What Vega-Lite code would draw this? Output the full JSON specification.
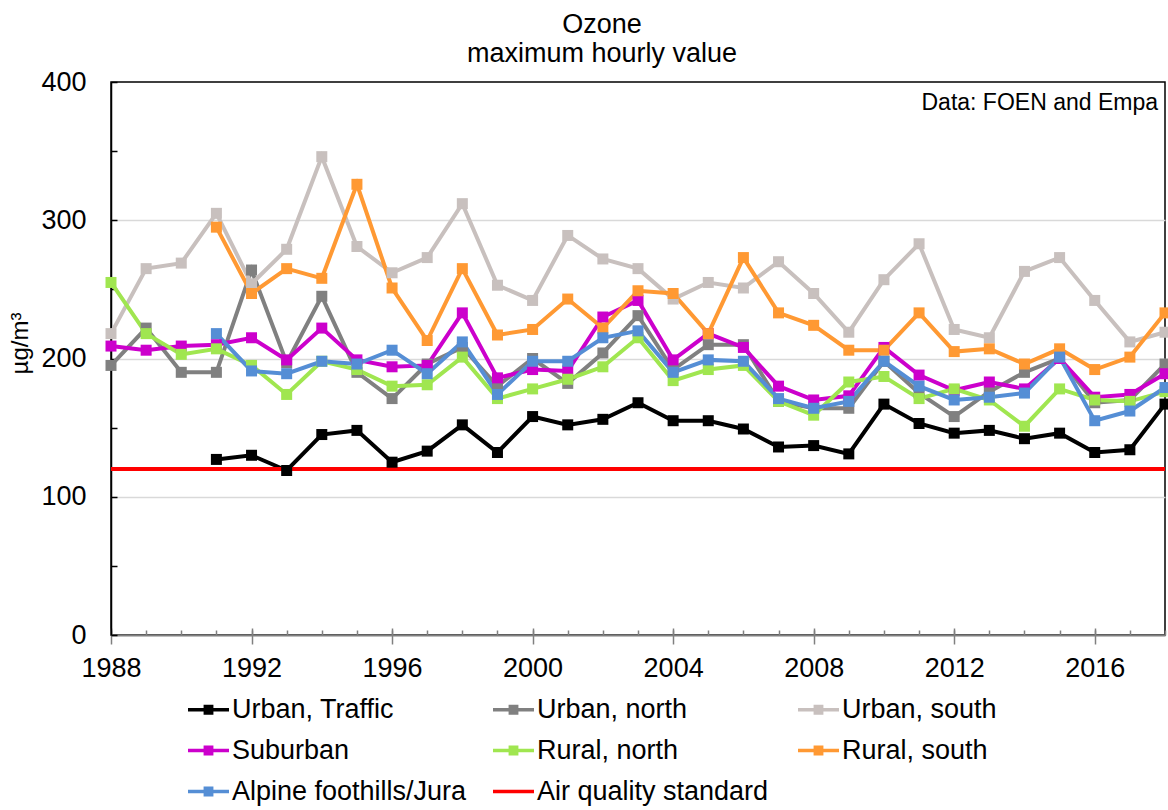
{
"$schema": "https://vega.github.io/schema/vega-lite/v6.json",
"width": 1054, "height": 553,
"autosize": {"type": "none"},
"padding": {"left": 111, "top": 82, "right": 3, "bottom": 175},
"title": {"text": ["Ozone", "maximum hourly value"], "fontSize": 27, "font": "Liberation Sans", "fontWeight": "normal", "color": "#000000", "anchor": "middle", "frame": "group", "dx": -36, "offset": -21, "baseline": "alphabetic", "lineHeight": 29},
"config": {"view": {"stroke": "#000000", "strokeWidth": 1.5}, "font": "Liberation Sans", "axis": {"labelFont": "Liberation Sans", "titleFont": "Liberation Sans", "labelColor": "#000000", "titleColor": "#000000"}},
"data": {"values": [
{"year":1991,"series":"Urban, Traffic","value":127},{"year":1992,"series":"Urban, Traffic","value":130},{"year":1993,"series":"Urban, Traffic","value":119},{"year":1994,"series":"Urban, Traffic","value":145},{"year":1995,"series":"Urban, Traffic","value":148},{"year":1996,"series":"Urban, Traffic","value":125},{"year":1997,"series":"Urban, Traffic","value":133},{"year":1998,"series":"Urban, Traffic","value":152},{"year":1999,"series":"Urban, Traffic","value":132},{"year":2000,"series":"Urban, Traffic","value":158},{"year":2001,"series":"Urban, Traffic","value":152},{"year":2002,"series":"Urban, Traffic","value":156},{"year":2003,"series":"Urban, Traffic","value":168},{"year":2004,"series":"Urban, Traffic","value":155},{"year":2005,"series":"Urban, Traffic","value":155},{"year":2006,"series":"Urban, Traffic","value":149},{"year":2007,"series":"Urban, Traffic","value":136},{"year":2008,"series":"Urban, Traffic","value":137},{"year":2009,"series":"Urban, Traffic","value":131},{"year":2010,"series":"Urban, Traffic","value":167},{"year":2011,"series":"Urban, Traffic","value":153},{"year":2012,"series":"Urban, Traffic","value":146},{"year":2013,"series":"Urban, Traffic","value":148},{"year":2014,"series":"Urban, Traffic","value":142},{"year":2015,"series":"Urban, Traffic","value":146},{"year":2016,"series":"Urban, Traffic","value":132},{"year":2017,"series":"Urban, Traffic","value":134},{"year":2018,"series":"Urban, Traffic","value":167},
{"year":1988,"series":"Urban, north","value":195},{"year":1989,"series":"Urban, north","value":222},{"year":1990,"series":"Urban, north","value":190},{"year":1991,"series":"Urban, north","value":190},{"year":1992,"series":"Urban, north","value":264},{"year":1993,"series":"Urban, north","value":197},{"year":1994,"series":"Urban, north","value":245},{"year":1995,"series":"Urban, north","value":190},{"year":1996,"series":"Urban, north","value":171},{"year":1997,"series":"Urban, north","value":196},{"year":1998,"series":"Urban, north","value":208},{"year":1999,"series":"Urban, north","value":180},{"year":2000,"series":"Urban, north","value":200},{"year":2001,"series":"Urban, north","value":182},{"year":2002,"series":"Urban, north","value":204},{"year":2003,"series":"Urban, north","value":231},{"year":2004,"series":"Urban, north","value":192},{"year":2005,"series":"Urban, north","value":210},{"year":2006,"series":"Urban, north","value":210},{"year":2007,"series":"Urban, north","value":169},{"year":2008,"series":"Urban, north","value":164},{"year":2009,"series":"Urban, north","value":164},{"year":2010,"series":"Urban, north","value":198},{"year":2011,"series":"Urban, north","value":175},{"year":2012,"series":"Urban, north","value":158},{"year":2013,"series":"Urban, north","value":176},{"year":2014,"series":"Urban, north","value":190},{"year":2015,"series":"Urban, north","value":200},{"year":2016,"series":"Urban, north","value":168},{"year":2017,"series":"Urban, north","value":170},{"year":2018,"series":"Urban, north","value":196},
{"year":1988,"series":"Urban, south","value":218},{"year":1989,"series":"Urban, south","value":265},{"year":1990,"series":"Urban, south","value":269},{"year":1991,"series":"Urban, south","value":305},{"year":1992,"series":"Urban, south","value":254},{"year":1993,"series":"Urban, south","value":279},{"year":1994,"series":"Urban, south","value":346},{"year":1995,"series":"Urban, south","value":281},{"year":1996,"series":"Urban, south","value":262},{"year":1997,"series":"Urban, south","value":273},{"year":1998,"series":"Urban, south","value":312},{"year":1999,"series":"Urban, south","value":253},{"year":2000,"series":"Urban, south","value":242},{"year":2001,"series":"Urban, south","value":289},{"year":2002,"series":"Urban, south","value":272},{"year":2003,"series":"Urban, south","value":265},{"year":2004,"series":"Urban, south","value":243},{"year":2005,"series":"Urban, south","value":255},{"year":2006,"series":"Urban, south","value":251},{"year":2007,"series":"Urban, south","value":270},{"year":2008,"series":"Urban, south","value":247},{"year":2009,"series":"Urban, south","value":219},{"year":2010,"series":"Urban, south","value":257},{"year":2011,"series":"Urban, south","value":283},{"year":2012,"series":"Urban, south","value":221},{"year":2013,"series":"Urban, south","value":215},{"year":2014,"series":"Urban, south","value":263},{"year":2015,"series":"Urban, south","value":273},{"year":2016,"series":"Urban, south","value":242},{"year":2017,"series":"Urban, south","value":212},{"year":2018,"series":"Urban, south","value":219},
{"year":1988,"series":"Suburban","value":209},{"year":1989,"series":"Suburban","value":206},{"year":1990,"series":"Suburban","value":209},{"year":1991,"series":"Suburban","value":210},{"year":1992,"series":"Suburban","value":215},{"year":1993,"series":"Suburban","value":199},{"year":1994,"series":"Suburban","value":222},{"year":1995,"series":"Suburban","value":199},{"year":1996,"series":"Suburban","value":194},{"year":1997,"series":"Suburban","value":195},{"year":1998,"series":"Suburban","value":233},{"year":1999,"series":"Suburban","value":186},{"year":2000,"series":"Suburban","value":192},{"year":2001,"series":"Suburban","value":191},{"year":2002,"series":"Suburban","value":230},{"year":2003,"series":"Suburban","value":242},{"year":2004,"series":"Suburban","value":199},{"year":2005,"series":"Suburban","value":218},{"year":2006,"series":"Suburban","value":208},{"year":2007,"series":"Suburban","value":180},{"year":2008,"series":"Suburban","value":170},{"year":2009,"series":"Suburban","value":173},{"year":2010,"series":"Suburban","value":208},{"year":2011,"series":"Suburban","value":188},{"year":2012,"series":"Suburban","value":177},{"year":2013,"series":"Suburban","value":183},{"year":2014,"series":"Suburban","value":178},{"year":2015,"series":"Suburban","value":200},{"year":2016,"series":"Suburban","value":172},{"year":2017,"series":"Suburban","value":174},{"year":2018,"series":"Suburban","value":189},
{"year":1988,"series":"Rural, north","value":255},{"year":1989,"series":"Rural, north","value":218},{"year":1990,"series":"Rural, north","value":203},{"year":1991,"series":"Rural, north","value":207},{"year":1992,"series":"Rural, north","value":195},{"year":1993,"series":"Rural, north","value":174},{"year":1994,"series":"Rural, north","value":198},{"year":1995,"series":"Rural, north","value":192},{"year":1996,"series":"Rural, north","value":180},{"year":1997,"series":"Rural, north","value":181},{"year":1998,"series":"Rural, north","value":201},{"year":1999,"series":"Rural, north","value":171},{"year":2000,"series":"Rural, north","value":178},{"year":2001,"series":"Rural, north","value":185},{"year":2002,"series":"Rural, north","value":194},{"year":2003,"series":"Rural, north","value":215},{"year":2004,"series":"Rural, north","value":184},{"year":2005,"series":"Rural, north","value":192},{"year":2006,"series":"Rural, north","value":195},{"year":2007,"series":"Rural, north","value":169},{"year":2008,"series":"Rural, north","value":159},{"year":2009,"series":"Rural, north","value":183},{"year":2010,"series":"Rural, north","value":187},{"year":2011,"series":"Rural, north","value":171},{"year":2012,"series":"Rural, north","value":178},{"year":2013,"series":"Rural, north","value":170},{"year":2014,"series":"Rural, north","value":151},{"year":2015,"series":"Rural, north","value":178},{"year":2016,"series":"Rural, north","value":170},{"year":2017,"series":"Rural, north","value":169},{"year":2018,"series":"Rural, north","value":176},
{"year":1991,"series":"Rural, south","value":295},{"year":1992,"series":"Rural, south","value":247},{"year":1993,"series":"Rural, south","value":265},{"year":1994,"series":"Rural, south","value":258},{"year":1995,"series":"Rural, south","value":326},{"year":1996,"series":"Rural, south","value":251},{"year":1997,"series":"Rural, south","value":213},{"year":1998,"series":"Rural, south","value":265},{"year":1999,"series":"Rural, south","value":217},{"year":2000,"series":"Rural, south","value":221},{"year":2001,"series":"Rural, south","value":243},{"year":2002,"series":"Rural, south","value":222},{"year":2003,"series":"Rural, south","value":249},{"year":2004,"series":"Rural, south","value":247},{"year":2005,"series":"Rural, south","value":218},{"year":2006,"series":"Rural, south","value":273},{"year":2007,"series":"Rural, south","value":233},{"year":2008,"series":"Rural, south","value":224},{"year":2009,"series":"Rural, south","value":206},{"year":2010,"series":"Rural, south","value":206},{"year":2011,"series":"Rural, south","value":233},{"year":2012,"series":"Rural, south","value":205},{"year":2013,"series":"Rural, south","value":207},{"year":2014,"series":"Rural, south","value":196},{"year":2015,"series":"Rural, south","value":207},{"year":2016,"series":"Rural, south","value":192},{"year":2017,"series":"Rural, south","value":201},{"year":2018,"series":"Rural, south","value":233},
{"year":1991,"series":"Alpine foothills/Jura","value":218},{"year":1992,"series":"Alpine foothills/Jura","value":191},{"year":1993,"series":"Alpine foothills/Jura","value":189},{"year":1994,"series":"Alpine foothills/Jura","value":198},{"year":1995,"series":"Alpine foothills/Jura","value":196},{"year":1996,"series":"Alpine foothills/Jura","value":206},{"year":1997,"series":"Alpine foothills/Jura","value":189},{"year":1998,"series":"Alpine foothills/Jura","value":212},{"year":1999,"series":"Alpine foothills/Jura","value":174},{"year":2000,"series":"Alpine foothills/Jura","value":198},{"year":2001,"series":"Alpine foothills/Jura","value":198},{"year":2002,"series":"Alpine foothills/Jura","value":215},{"year":2003,"series":"Alpine foothills/Jura","value":220},{"year":2004,"series":"Alpine foothills/Jura","value":190},{"year":2005,"series":"Alpine foothills/Jura","value":199},{"year":2006,"series":"Alpine foothills/Jura","value":198},{"year":2007,"series":"Alpine foothills/Jura","value":171},{"year":2008,"series":"Alpine foothills/Jura","value":164},{"year":2009,"series":"Alpine foothills/Jura","value":169},{"year":2010,"series":"Alpine foothills/Jura","value":198},{"year":2011,"series":"Alpine foothills/Jura","value":180},{"year":2012,"series":"Alpine foothills/Jura","value":170},{"year":2013,"series":"Alpine foothills/Jura","value":172},{"year":2014,"series":"Alpine foothills/Jura","value":175},{"year":2015,"series":"Alpine foothills/Jura","value":201},{"year":2016,"series":"Alpine foothills/Jura","value":155},{"year":2017,"series":"Alpine foothills/Jura","value":162},{"year":2018,"series":"Alpine foothills/Jura","value":179},
{"year":1988,"series":"Air quality standard","value":120},{"year":2018,"series":"Air quality standard","value":120}
]},
"layer": [
{
"mark": {"type": "line", "strokeWidth": 4, "clip": false},
"encoding": {
"x": {"field": "year", "type": "quantitative", "scale": {"domain": [1988, 2018], "nice": false, "zero": false},
"axis": {"orient": "bottom", "values": [1988, 1992, 1996, 2000, 2004, 2008, 2012, 2016], "format": "d", "tickSize": 9, "tickColor": "#808080", "tickWidth": 1.5, "domainColor": "#808080", "domainWidth": 2, "labelFontSize": 27, "labelPadding": 11, "grid": false, "title": null, "labelFlush": false, "labelOverlap": false}},
"y": {"field": "value", "type": "quantitative", "scale": {"domain": [0, 400], "nice": false},
"axis": {"orient": "left", "values": [0, 100, 200, 300, 400], "tickSize": 0, "labelPadding": 25, "labelFontSize": 27, "grid": false, "domainColor": "#000000", "domainWidth": 1.5, "title": "µg/m³", "titleFontSize": 24, "titleFontWeight": "normal", "titleAngle": -90, "titleX": -84, "titleY": 261, "titleAlign": "center", "titleBaseline": "alphabetic"}},
"color": {"field": "series", "type": "nominal",
"scale": {"domain": ["Urban, Traffic", "Urban, north", "Urban, south", "Suburban", "Rural, north", "Rural, south", "Alpine foothills/Jura", "Air quality standard"],
"range": ["#000000", "#808080", "#C8C0BE", "#CC00CC", "#A0E650", "#FF9933", "#558ED5", "#FF0000"]},
"legend": {"orient": "none", "direction": "horizontal", "legendX": 77, "legendY": 607, "columns": 3, "gridAlign": "all", "columnPadding": 26, "rowPadding": 7, "padding": 0, "symbolSize": 1681, "labelFontSize": 27, "labelFont": "Liberation Sans", "labelColor": "#000000", "labelOffset": 3, "labelLimit": 400, "title": null, "symbolStrokeWidth": 0, "symbolType": "square",
"encode": {"symbols": {"update": {
"shape": {"signal": "datum.value === 'Air quality standard' ? 'M-1,-0.085H1V0.085H-1Z' : 'M-1,-0.085H1V0.085H-1Z M-0.24,-0.24H0.24V0.24H-0.24Z'"},
"fill": {"signal": "scale('color', datum.value)"},
"stroke": {"value": "transparent"},
"strokeWidth": {"value": 0},
"opacity": {"value": 1}}}}}},
"strokeWidth": {"condition": {"test": "datum.series === 'Air quality standard'", "value": 5}, "value": 4}
}
},
{
"transform": [{"filter": "datum.series !== 'Air quality standard'"}],
"mark": {"type": "point", "shape": "square", "filled": true, "size": 121, "opacity": 1},
"encoding": {
"x": {"field": "year", "type": "quantitative",
"axis": {"orient": "bottom", "values": [1988,1989,1990,1991,1992,1993,1994,1995,1996,1997,1998,1999,2000,2001,2002,2003,2004,2005,2006,2007,2008,2009,2010,2011,2012,2013,2014,2015,2016,2017,2018], "tickSize": -5, "labels": false, "domain": false, "grid": false, "title": null, "tickColor": "#808080", "tickWidth": 1.5}},
"y": {"field": "value", "type": "quantitative",
"axis": {"orient": "left", "values": [0, 50, 100, 150, 200, 250, 300, 350, 400], "tickSize": -6, "labels": false, "domain": false, "grid": false, "title": null, "tickColor": "#000000", "tickWidth": 1.5}},
"color": {"field": "series", "type": "nominal"}
}
},
{
"data": {"values": [{"label": "Data: FOEN and Empa"}]},
"mark": {"type": "text", "align": "right", "baseline": "middle", "fontSize": 23, "dx": -7, "font": "Liberation Sans", "color": "#000000"},
"encoding": {
"x": {"datum": 2018, "type": "quantitative",
"axis": {"orient": "bottom", "values": [1988, 1992, 1996, 2000, 2004, 2008, 2012, 2016], "tickSize": -7, "labels": false, "domain": false, "grid": false, "title": null, "tickColor": "#808080", "tickWidth": 1.5}},
"y": {"datum": 385, "type": "quantitative",
"axis": {"orient": "left", "values": [100, 200, 300], "ticks": false, "labels": false, "domain": false, "grid": true, "gridColor": "#D9D9D9", "gridWidth": 1.5, "title": null}},
"text": {"field": "label"}
}
}
],
"resolve": {"axis": {"x": "independent", "y": "independent"}}
}
